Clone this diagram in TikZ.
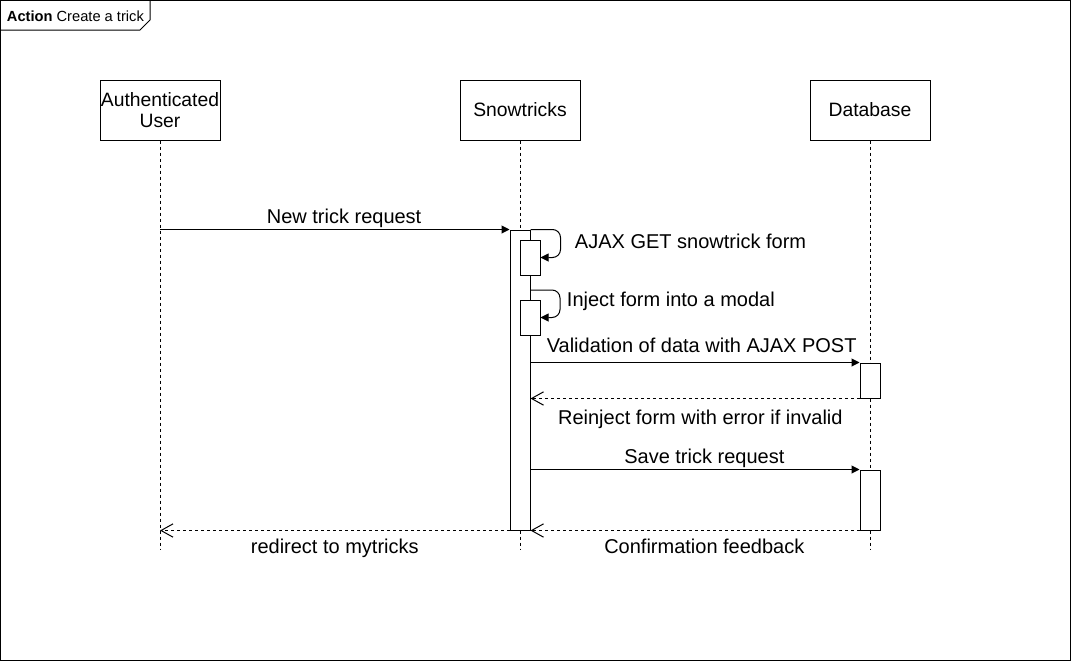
\documentclass[tikz,border=0pt]{standalone}
\usepackage{fontspec}
\setmainfont{Liberation Sans}
\usetikzlibrary{arrows.meta,fit}

\tikzset{
	head/.style={draw, minimum width=90pt, minimum height=45pt, inner xsep=0pt, align=center, font=\fontsize{14.5}{15.75}\selectfont},
	act/.style={draw, fill=white, inner sep=0pt, fit={#1}},
	life/.style={dash pattern=on 2.25pt off 2.25pt},
	msg/.style={-{Triangle[length=6pt,width=6pt]}},
	ret/.style={dash pattern=on 2.25pt off 2.25pt, -{Straight Barb[length=9pt,width=10pt]}},
}

\begin{document}
\begin{tikzpicture}[x=0.75pt, y=-0.75pt, line width=0.75pt, font=\fontsize{15}{18}\selectfont]
		\useasboundingbox (0,0) rectangle (1071,661);
		\draw (0.5,0.5) rectangle (1070.5,660.5);
		\draw (0.5,30) -- (140,30) -- (150,20) -- (150,0.5);
		\draw (2,16) node [anchor=west, font=\fontsize{11}{13}\selectfont] (tag) {\textbf{Action} Create a trick};

		\draw (160,110) node [head] (user) {Authenticated\\User};
		\draw (520,110) node [head] (snow) {Snowtricks};
		\draw (870,110) node [head] (db) {Database};

		\coordinate (userend) at (160,550);
		\coordinate (snowend) at (520,550);
		\coordinate (dbend) at (870,550);
		\draw [life] (user) -- (userend) (snow) -- (snowend) (db) -- (dbend);

		\node [act={(510,230) (530,530)}] (snowact) {};
		\node [act={(520,240) (540,275)}] (getact) {};
		\node [act={(520,300) (540,335)}] (modalact) {};
		\node [act={(860,363) (880,398)}] (checkact) {};
		\node [act={(860,470) (880,530)}] (saveact) {};

		\coordinate (modalstart) at (530,290);
		\draw [msg, rounded corners=6pt] (snowact.north east) -- ++(30,0) |- (getact.east);
		\draw [msg, rounded corners=6pt] (modalstart) -- ++(30,0) |- (modalact.east);
		\draw (570,241) node [anchor=west] (getlbl) {AJAX GET snowtrick form};
		\draw (562,301) node [anchor=west] (modallbl) {Inject form into a modal};

		\draw
			(user |- snowact.north) edge [msg] node [above, xshift=7pt, inner sep=1.25pt] {New trick request} (snowact.north west)
			(snowact.east |- checkact.north) edge [msg] node [above, xshift=5pt, inner sep=7pt] {Validation of data with AJAX POST} (checkact.north west)
			(checkact.south west) edge [ret] node [below, xshift=4pt, inner sep=8pt] {Reinject form with error if invalid} (snowact.east |- checkact.south)
			(snowact.east |- saveact.north) edge [msg] node [above, xshift=7pt, inner sep=1.25pt] {Save trick request} (saveact.north west)
			(saveact.south west) edge [ret] node [below, xshift=7pt, inner sep=6.25pt] {Confirmation feedback} (snowact.south east)
			(snowact.south west) edge [ret] node [below, inner sep=6.25pt] {redirect to mytricks} (user |- snowact.south)
		;
	\end{tikzpicture}
\end{document}
